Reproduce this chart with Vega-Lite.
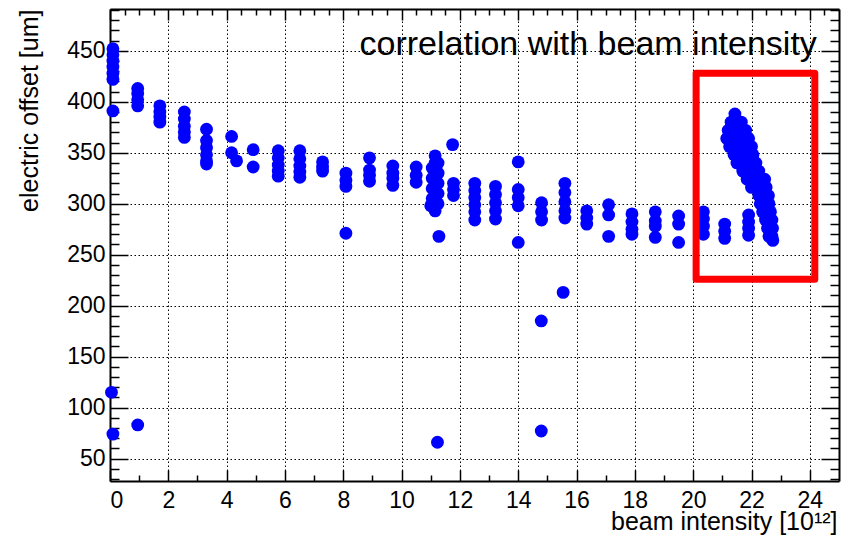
{
  "$schema": "https://vega.github.io/schema/vega-lite/v6.json",
  "width": 729,
  "height": 472,
  "autosize": {"type": "none"},
  "padding": {"left": 110, "top": 9, "right": 15, "bottom": 61},
  "background": "white",
  "config": {"view": {"stroke": null}, "font": "Liberation Sans"},
  "layer": [
    {
      "data": {"values": [
        {"intensity": 0.1, "offset": 452}, {"intensity": 0.1, "offset": 446}, {"intensity": 0.1, "offset": 440}, {"intensity": 0.1, "offset": 434}, {"intensity": 0.1, "offset": 428}, {"intensity": 0.1, "offset": 422}, {"intensity": 0.1, "offset": 391}, {"intensity": 0.05, "offset": 115}, {"intensity": 0.1, "offset": 74},
        {"intensity": 0.95, "offset": 413}, {"intensity": 0.95, "offset": 408}, {"intensity": 0.95, "offset": 402}, {"intensity": 0.95, "offset": 396}, {"intensity": 0.95, "offset": 83},
        {"intensity": 1.71, "offset": 396}, {"intensity": 1.71, "offset": 390}, {"intensity": 1.71, "offset": 385}, {"intensity": 1.71, "offset": 380},
        {"intensity": 2.55, "offset": 390}, {"intensity": 2.55, "offset": 383}, {"intensity": 2.55, "offset": 376}, {"intensity": 2.55, "offset": 370}, {"intensity": 2.55, "offset": 365},
        {"intensity": 3.31, "offset": 373}, {"intensity": 3.31, "offset": 362}, {"intensity": 3.31, "offset": 355}, {"intensity": 3.31, "offset": 348}, {"intensity": 3.31, "offset": 342}, {"intensity": 3.31, "offset": 339},
        {"intensity": 4.17, "offset": 366}, {"intensity": 4.17, "offset": 350}, {"intensity": 4.34, "offset": 342},
        {"intensity": 4.91, "offset": 353}, {"intensity": 4.91, "offset": 336},
        {"intensity": 5.77, "offset": 352}, {"intensity": 5.77, "offset": 345}, {"intensity": 5.77, "offset": 338}, {"intensity": 5.77, "offset": 332}, {"intensity": 5.77, "offset": 327},
        {"intensity": 6.51, "offset": 352}, {"intensity": 6.51, "offset": 344}, {"intensity": 6.51, "offset": 337}, {"intensity": 6.51, "offset": 331}, {"intensity": 6.51, "offset": 326},
        {"intensity": 7.29, "offset": 341}, {"intensity": 7.29, "offset": 336}, {"intensity": 7.29, "offset": 332},
        {"intensity": 8.09, "offset": 330}, {"intensity": 8.09, "offset": 323}, {"intensity": 8.09, "offset": 317}, {"intensity": 8.09, "offset": 271},
        {"intensity": 8.9, "offset": 345}, {"intensity": 8.9, "offset": 333}, {"intensity": 8.9, "offset": 328}, {"intensity": 8.9, "offset": 322},
        {"intensity": 9.7, "offset": 337}, {"intensity": 9.7, "offset": 330}, {"intensity": 9.7, "offset": 325}, {"intensity": 9.7, "offset": 318},
        {"intensity": 10.5, "offset": 336}, {"intensity": 10.5, "offset": 328}, {"intensity": 10.5, "offset": 321},
        {"intensity": 11.05, "offset": 335}, {"intensity": 11.05, "offset": 325}, {"intensity": 11.05, "offset": 315}, {"intensity": 11.05, "offset": 305}, {"intensity": 11.0, "offset": 298},
        {"intensity": 11.15, "offset": 347}, {"intensity": 11.15, "offset": 340}, {"intensity": 11.15, "offset": 333}, {"intensity": 11.15, "offset": 326}, {"intensity": 11.15, "offset": 319}, {"intensity": 11.15, "offset": 312}, {"intensity": 11.15, "offset": 305}, {"intensity": 11.15, "offset": 298}, {"intensity": 11.15, "offset": 293},
        {"intensity": 11.25, "offset": 340}, {"intensity": 11.25, "offset": 330}, {"intensity": 11.25, "offset": 320}, {"intensity": 11.25, "offset": 310}, {"intensity": 11.25, "offset": 300}, {"intensity": 11.28, "offset": 268}, {"intensity": 11.23, "offset": 66},
        {"intensity": 11.75, "offset": 358}, {"intensity": 11.78, "offset": 320}, {"intensity": 11.78, "offset": 314}, {"intensity": 11.78, "offset": 308},
        {"intensity": 12.51, "offset": 320}, {"intensity": 12.51, "offset": 313}, {"intensity": 12.51, "offset": 306}, {"intensity": 12.51, "offset": 299}, {"intensity": 12.51, "offset": 292}, {"intensity": 12.51, "offset": 284},
        {"intensity": 13.22, "offset": 317}, {"intensity": 13.22, "offset": 309}, {"intensity": 13.22, "offset": 301}, {"intensity": 13.22, "offset": 293}, {"intensity": 13.22, "offset": 285},
        {"intensity": 14.0, "offset": 341}, {"intensity": 14.0, "offset": 314}, {"intensity": 14.0, "offset": 306}, {"intensity": 14.0, "offset": 298}, {"intensity": 14.0, "offset": 262},
        {"intensity": 14.8, "offset": 301}, {"intensity": 14.8, "offset": 292}, {"intensity": 14.8, "offset": 284}, {"intensity": 14.79, "offset": 185}, {"intensity": 14.79, "offset": 77},
        {"intensity": 15.6, "offset": 320}, {"intensity": 15.6, "offset": 311}, {"intensity": 15.6, "offset": 302}, {"intensity": 15.6, "offset": 293}, {"intensity": 15.6, "offset": 286}, {"intensity": 15.54, "offset": 213},
        {"intensity": 16.35, "offset": 293}, {"intensity": 16.35, "offset": 286}, {"intensity": 16.35, "offset": 280},
        {"intensity": 17.1, "offset": 299}, {"intensity": 17.1, "offset": 289}, {"intensity": 17.1, "offset": 268},
        {"intensity": 17.9, "offset": 290}, {"intensity": 17.9, "offset": 282}, {"intensity": 17.9, "offset": 275}, {"intensity": 17.9, "offset": 270},
        {"intensity": 18.7, "offset": 292}, {"intensity": 18.7, "offset": 283}, {"intensity": 18.7, "offset": 278}, {"intensity": 18.7, "offset": 267},
        {"intensity": 19.5, "offset": 288}, {"intensity": 19.5, "offset": 280}, {"intensity": 19.5, "offset": 262},
        {"intensity": 20.35, "offset": 292}, {"intensity": 20.35, "offset": 285}, {"intensity": 20.35, "offset": 278}, {"intensity": 20.35, "offset": 270},
        {"intensity": 21.08, "offset": 280}, {"intensity": 21.08, "offset": 273}, {"intensity": 21.08, "offset": 266},
        {"intensity": 21.9, "offset": 289}, {"intensity": 21.9, "offset": 282}, {"intensity": 21.9, "offset": 276}, {"intensity": 21.9, "offset": 269},
        {"intensity": 21.43, "offset": 388},
        {"intensity": 21.3, "offset": 380}, {"intensity": 21.5, "offset": 380}, {"intensity": 21.65, "offset": 380},
        {"intensity": 21.2, "offset": 372}, {"intensity": 21.4, "offset": 372}, {"intensity": 21.6, "offset": 372}, {"intensity": 21.8, "offset": 372},
        {"intensity": 21.15, "offset": 364}, {"intensity": 21.35, "offset": 364}, {"intensity": 21.55, "offset": 364}, {"intensity": 21.75, "offset": 364}, {"intensity": 21.9, "offset": 364},
        {"intensity": 21.25, "offset": 356}, {"intensity": 21.45, "offset": 356}, {"intensity": 21.65, "offset": 356}, {"intensity": 21.85, "offset": 356}, {"intensity": 22.0, "offset": 356},
        {"intensity": 21.4, "offset": 348}, {"intensity": 21.6, "offset": 348}, {"intensity": 21.8, "offset": 348}, {"intensity": 22.05, "offset": 348},
        {"intensity": 21.5, "offset": 340}, {"intensity": 21.7, "offset": 340}, {"intensity": 21.9, "offset": 340}, {"intensity": 22.15, "offset": 340},
        {"intensity": 21.7, "offset": 332}, {"intensity": 21.9, "offset": 332}, {"intensity": 22.1, "offset": 332}, {"intensity": 22.25, "offset": 332},
        {"intensity": 21.85, "offset": 324}, {"intensity": 22.05, "offset": 324}, {"intensity": 22.25, "offset": 324}, {"intensity": 22.45, "offset": 324},
        {"intensity": 22.0, "offset": 316}, {"intensity": 22.2, "offset": 316}, {"intensity": 22.4, "offset": 316}, {"intensity": 22.5, "offset": 316},
        {"intensity": 22.25, "offset": 308}, {"intensity": 22.4, "offset": 308}, {"intensity": 22.58, "offset": 308},
        {"intensity": 22.3, "offset": 300}, {"intensity": 22.45, "offset": 300}, {"intensity": 22.6, "offset": 300},
        {"intensity": 22.38, "offset": 292}, {"intensity": 22.52, "offset": 292}, {"intensity": 22.65, "offset": 292},
        {"intensity": 22.48, "offset": 284}, {"intensity": 22.6, "offset": 284}, {"intensity": 22.7, "offset": 284},
        {"intensity": 22.55, "offset": 276}, {"intensity": 22.66, "offset": 276}, {"intensity": 22.72, "offset": 276},
        {"intensity": 22.6, "offset": 268}, {"intensity": 22.7, "offset": 268}, {"intensity": 22.73, "offset": 264}
      ]},
      "mark": {"type": "circle", "size": 165, "color": "#0000ff", "opacity": 1},
      "encoding": {
        "x": {
          "field": "intensity", "type": "quantitative",
          "scale": {"domain": [0, 25], "nice": false, "zero": false},
          "axis": {
            "orient": "bottom",
            "values": [0,0.5,1,1.5,2,2.5,3,3.5,4,4.5,5,5.5,6,6.5,7,7.5,8,8.5,9,9.5,10,10.5,11,11.5,12,12.5,13,13.5,14,14.5,15,15.5,16,16.5,17,17.5,18,18.5,19,19.5,20,20.5,21,21.5,22,22.5,23,23.5,24,24.5],
            "labelExpr": "datum.value % 2 === 0 ? datum.label : ''",
            "labelOverlap": false,
            "labelFontSize": 23,
            "labelColor": "black",
            "labelPadding": 19,
            "format": "d",
            "tickSize": {"condition": {"test": "datum.value % 2 === 0", "value": -11}, "value": -6},
            "tickColor": "black",
            "tickWidth": 1.5,
            "domainColor": "black",
            "domainWidth": 2,
            "grid": true,
            "gridColor": "black",
            "gridDash": [1.5, 2.5],
            "gridWidth": 1,
            "gridOpacity": {"condition": {"test": "datum.value % 2 === 0", "value": 1}, "value": 0},
            "title": "beam intensity [10¹²]",
            "titleFontSize": 25,
            "titleFontWeight": "normal",
            "titleColor": "black",
            "titleAnchor": "end",
            "titleAlign": "right",
            "titleX": 727,
            "titleY": 48,
            "titleBaseline": "alphabetic"
          }
        },
        "y": {
          "field": "offset", "type": "quantitative",
          "scale": {"domain": [28, 491], "nice": false, "zero": false},
          "axis": {
            "orient": "left",
            "values": [30,40,50,60,70,80,90,100,110,120,130,140,150,160,170,180,190,200,210,220,230,240,250,260,270,280,290,300,310,320,330,340,350,360,370,380,390,400,410,420,430,440,450,460,470,480,490],
            "labelExpr": "datum.value % 50 === 0 ? datum.label : ''",
            "labelOverlap": false,
            "labelFontSize": 23,
            "labelColor": "black",
            "labelPadding": 23,
            "format": "d",
            "tickSize": {"condition": {"test": "datum.value % 50 === 0", "value": -18}, "value": -9},
            "tickColor": "black",
            "tickWidth": 1.5,
            "domainColor": "black",
            "domainWidth": 2,
            "grid": true,
            "gridColor": "black",
            "gridDash": [1.5, 2.5],
            "gridWidth": 1,
            "gridOpacity": {"condition": {"test": "datum.value % 50 === 0", "value": 1}, "value": 0},
            "title": "electric offset [um]",
            "titleFontSize": 25,
            "titleFontWeight": "normal",
            "titleColor": "black",
            "titleAngle": -90,
            "titleAlign": "right",
            "titleBaseline": "alphabetic",
            "titleX": -73,
            "titleY": 0
          }
        }
      }
    },
    {
      "data": {"values": [{"x1": 20.1, "x2": 24.17, "y1": 226, "y2": 428}]},
      "mark": {"type": "rect", "fillOpacity": 0, "stroke": "#ff0000", "strokeWidth": 7, "strokeJoin": "round"},
      "encoding": {
        "x": {
          "field": "x1", "type": "quantitative",
          "scale": {"domain": [0, 25], "nice": false, "zero": false},
          "axis": {
            "orient": "top",
            "values": [0,0.5,1,1.5,2,2.5,3,3.5,4,4.5,5,5.5,6,6.5,7,7.5,8,8.5,9,9.5,10,10.5,11,11.5,12,12.5,13,13.5,14,14.5,15,15.5,16,16.5,17,17.5,18,18.5,19,19.5,20,20.5,21,21.5,22,22.5,23,23.5,24,24.5],
            "labels": false,
            "grid": false,
            "title": null,
            "tickSize": {"condition": {"test": "datum.value % 2 === 0", "value": -11}, "value": -6},
            "tickColor": "black",
            "tickWidth": 1.5,
            "domainColor": "black",
            "domainWidth": 2
          }
        },
        "x2": {"field": "x2"},
        "y": {
          "field": "y1", "type": "quantitative",
          "scale": {"domain": [28, 491], "nice": false, "zero": false},
          "axis": {
            "orient": "right",
            "values": [30,40,50,60,70,80,90,100,110,120,130,140,150,160,170,180,190,200,210,220,230,240,250,260,270,280,290,300,310,320,330,340,350,360,370,380,390,400,410,420,430,440,450,460,470,480,490],
            "labels": false,
            "grid": false,
            "title": null,
            "tickSize": {"condition": {"test": "datum.value % 50 === 0", "value": -18}, "value": -9},
            "tickColor": "black",
            "tickWidth": 1.5,
            "domainColor": "black",
            "domainWidth": 2
          }
        },
        "y2": {"field": "y2"}
      }
    },
    {
      "data": {"values": [{"x": 24.24, "y": 446, "label": "correlation with beam intensity"}]},
      "mark": {"type": "text", "align": "right", "baseline": "alphabetic", "fontSize": 34, "color": "black", "font": "Liberation Sans"},
      "encoding": {
        "x": {"field": "x", "type": "quantitative", "scale": {"domain": [0, 25], "nice": false, "zero": false}, "axis": null},
        "y": {"field": "y", "type": "quantitative", "scale": {"domain": [28, 491], "nice": false, "zero": false}, "axis": null},
        "text": {"field": "label"}
      }
    }
  ],
  "resolve": {"axis": {"x": "independent", "y": "independent"}}
}
